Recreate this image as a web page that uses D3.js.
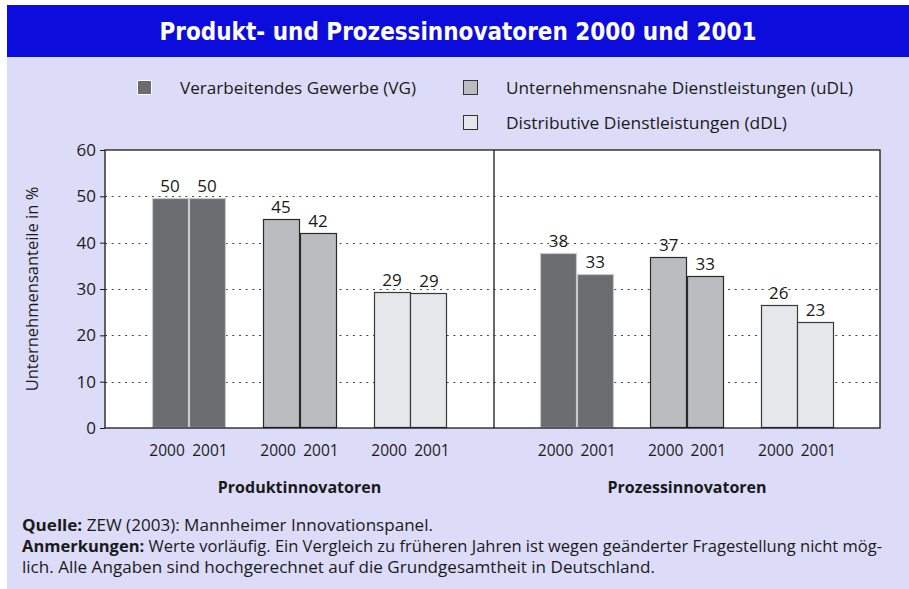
<!DOCTYPE html>
<html>
<head>
<meta charset="utf-8">
<script src="https://cdn.jsdelivr.net/npm/d3@7"></script>
<style>
  body { margin: 0; background: #fff; }
  svg text { font-family: "Open Sans", "Noto Sans", sans-serif; fill: #1a1a1a; }
</style>
</head>
<body>
<svg id="chart" width="909" height="589"></svg>
<script>
// data
const panels = ["Produktinnovatoren", "Prozessinnovatoren"];
const sectors = ["VG", "uDL", "dDL"];
const sectorNames = ["Verarbeitendes Gewerbe (VG)", "Unternehmensnahe Dienstleistungen (uDL)", "Distributive Dienstleistungen (dDL)"];
const years = ["2000", "2001"];
// [panel][sector][year]
const values = [
  [[49.6, 49.7], [45.1, 42.0], [29.3, 29.2]],
  [[37.7, 33.3], [36.8, 32.9], [26.6, 22.9]]
];
const labels = [
  [["50", "50"], ["45", "42"], ["29", "29"]],
  [["38", "33"], ["37", "33"], ["26", "23"]]
];
const yTicks = [0, 10, 20, 30, 40, 50, 60];

const fills = { VG: "#6b6c70", uDL: "#bbbcc0", dDL: "#e6e7ea" };
const strokes = { VG: "#c9c9cd", uDL: "#2a2a2a", dDL: "#3a3a3a" };

const svg = d3.select("#chart");

// backgrounds
svg.append("rect").attr("x", 7).attr("y", 5).attr("width", 902).attr("height", 584).attr("fill", "#dcdcf8");
svg.append("rect").attr("x", 7).attr("y", 5).attr("width", 902).attr("height", 52).attr("fill", "#0c0cdc");
svg.append("text").attr("x", 458).attr("y", 40).attr("text-anchor", "middle")
  .style("font-family", "'DejaVu Sans Condensed', 'DejaVu Sans', sans-serif")
  .style("font-weight", "bold").style("font-size", "24px").style("fill", "#fff")
  .attr("textLength", 597).attr("lengthAdjust", "spacingAndGlyphs")
  .text("Produkt- und Prozessinnovatoren 2000 und 2001");

// legend
const legendPos = [[137, 80], [463, 80], [463, 115]];
const legendLen = [236, 347, 281];
const lg = svg.append("g");
sectors.forEach((s, i) => {
  const [lx, ly] = legendPos[i];
  lg.append("rect").attr("x", lx + 0.5).attr("y", ly + 0.5).attr("width", 14).attr("height", 14)
    .attr("fill", fills[s]).attr("stroke", i === 0 ? "#fff" : "#333");
  lg.append("text").attr("x", lx + 43).attr("y", ly + 14).style("font-size", "17px")
    .attr("textLength", legendLen[i]).attr("lengthAdjust", "spacingAndGlyphs").text(sectorNames[i]);
});

// plot area
const pLeft = 105, pRight = 880, pTop = 150, pBottom = 428, pMid = 494;
const y = d3.scaleLinear().domain([0, 60]).range([pBottom, pTop]);

svg.append("rect").attr("x", pLeft).attr("y", pTop).attr("width", pRight - pLeft).attr("height", pBottom - pTop).attr("fill", "#fff");

// dotted grid
svg.append("g").selectAll("line").data(yTicks.filter(d => d > 0 && d < 60)).join("line")
  .attr("x1", pLeft).attr("x2", pRight).attr("y1", d => Math.round(y(d)) + 0.5).attr("y2", d => Math.round(y(d)) + 0.5)
  .attr("stroke", "#444").attr("stroke-width", 1.2).attr("stroke-dasharray", "2,4.7");

const panelRanges = [[pLeft, pMid], [pMid, pRight]];
panels.forEach((p, pi) => {
  const xg = d3.scaleBand().domain(sectors).range(panelRanges[pi]).paddingInner(0.335).paddingOuter(0.42);
  const xy = d3.scaleBand().domain(years).range([0, xg.bandwidth()]);
  const g = svg.append("g");
  sectors.forEach((s, si) => {
    years.forEach((yr, yi) => {
      const v = values[pi][si][yi];
      const bx = xg(s) + xy(yr);
      g.append("rect")
        .attr("x", Math.round(bx) + 0.5).attr("y", Math.round(y(v)) + 0.5)
        .attr("width", Math.round(xy.bandwidth()) - 1).attr("height", pBottom - Math.round(y(v)) - 1)
        .attr("fill", fills[s]).attr("stroke", strokes[s]).attr("stroke-width", 1.2);
      g.append("text").attr("x", bx + xy.bandwidth() / 2).attr("y", y(v) - 6)
        .attr("text-anchor", "middle").style("font-size", "17px").text(labels[pi][si][yi]);
      g.append("text").attr("x", bx + xy.bandwidth() / 2 + (yi === 0 ? -3 : 3)).attr("y", 456)
        .attr("text-anchor", "middle").style("font-size", "15.5px").text(yr);
    });
  });
  svg.append("text").attr("x", (panelRanges[pi][0] + panelRanges[pi][1]) / 2).attr("y", 493)
    .attr("text-anchor", "middle").style("font-size", "16px").style("font-weight", "bold").text(p);
});

// frame
const frame = svg.append("g").attr("stroke", "#1a1a1a").attr("stroke-width", 1.3).attr("fill", "none");
frame.append("rect").attr("x", pLeft).attr("y", pTop).attr("width", pRight - pLeft).attr("height", pBottom - pTop);
frame.append("line").attr("x1", pMid).attr("x2", pMid).attr("y1", pTop).attr("y2", pBottom);

// y axis
const yAxis = d3.axisLeft(y).tickValues(yTicks).tickSize(5).tickPadding(4);
const ya = svg.append("g").attr("transform", `translate(${pLeft},0)`).call(yAxis);
ya.select(".domain").remove();
ya.selectAll("text").style("font-size", "17px").style("font-family", "'Open Sans', sans-serif").attr("fill", "#1a1a1a");
ya.selectAll("line").attr("stroke", "#1a1a1a");

svg.append("text").attr("transform", `translate(38,${(pTop + pBottom) / 2}) rotate(-90)`)
  .attr("text-anchor", "middle").style("font-size", "16.5px").text("Unternehmensanteile in %");

// footer
const foot = svg.append("g").style("font-size", "16px");
const l1 = foot.append("text").attr("x", 22).attr("y", 531).attr("textLength", 411).attr("lengthAdjust", "spacingAndGlyphs");
l1.append("tspan").style("font-weight", "bold").text("Quelle:");
l1.append("tspan").text(" ZEW (2003): Mannheimer Innovationspanel.");
const l2 = foot.append("text").attr("x", 22).attr("y", 552).attr("textLength", 860).attr("lengthAdjust", "spacingAndGlyphs");
l2.append("tspan").style("font-weight", "bold").text("Anmerkungen:");
l2.append("tspan").text(" Werte vorläufig. Ein Vergleich zu früheren Jahren ist wegen geänderter Fragestellung nicht mög-");
foot.append("text").attr("x", 22).attr("y", 573).attr("textLength", 633).attr("lengthAdjust", "spacingAndGlyphs")
  .text("lich. Alle Angaben sind hochgerechnet auf die Grundgesamtheit in Deutschland.");
</script>
</body>
</html>
